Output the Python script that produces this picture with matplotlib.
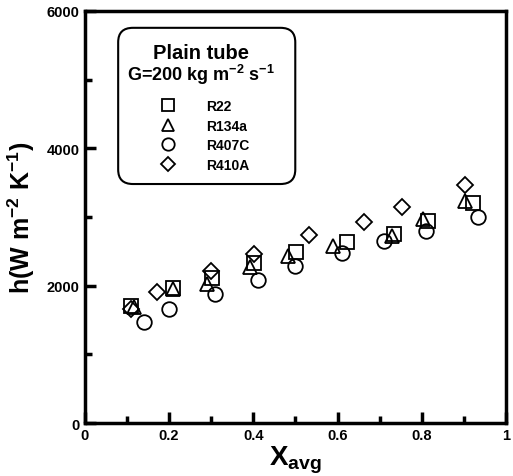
import matplotlib.pyplot as plt
from matplotlib.ticker import MultipleLocator
from matplotlib.patches import FancyBboxPatch

plt.rcParams['font.family'] = ['Liberation Sans', 'DejaVu Sans']
plt.rcParams['font.weight'] = 'bold'
plt.rcParams['mathtext.fontset'] = 'custom'
plt.rcParams['mathtext.rm'] = 'Liberation Sans:bold'
plt.rcParams['mathtext.it'] = 'Liberation Sans:bold'
plt.rcParams['mathtext.bf'] = 'Liberation Sans:bold'

# quality x_avg and heat transfer coefficient
x_r22 = [0.111, 0.210, 0.302, 0.402, 0.502, 0.622, 0.733, 0.815, 0.922]
h_r22 = [1700, 1966, 2107, 2325, 2485, 2640, 2752, 2946, 3199]

x_r134a = [0.118, 0.210, 0.289, 0.392, 0.482, 0.590, 0.729, 0.803, 0.903]
h_r134a = [1685, 1950, 2024, 2267, 2436, 2573, 2727, 2970, 3237]

x_r407c = [0.140, 0.199, 0.310, 0.410, 0.500, 0.611, 0.711, 0.809, 0.932]
h_r407c = [1466, 1660, 1878, 2087, 2290, 2471, 2655, 2800, 2995]

x_r410a = [0.111, 0.171, 0.300, 0.402, 0.532, 0.662, 0.752, 0.901]
h_r410a = [1660, 1912, 2213, 2461, 2737, 2922, 3140, 3465]

fig = plt.figure(figsize=(5.13, 4.77), dpi=100)
ax = fig.add_axes([0.165, 0.111, 0.822, 0.864])

style = dict(linestyle='none', markerfacecolor='none', markeredgecolor='black',
             markeredgewidth=1.3)
ax.plot(x_r22, h_r22, marker='s', markersize=9.5, label='R22', **style)
ax.plot(x_r134a, h_r134a, marker='^', markersize=10, label='R134a', **style)
ax.plot(x_r407c, h_r407c, marker='o', markersize=10.5, label='R407C', **style)
ax.plot(x_r410a, h_r410a, marker='D', markersize=8, label='R410A', **style)

ax.set_xlim(0, 1)
ax.set_ylim(0, 6000)
ax.xaxis.set_major_locator(MultipleLocator(0.2))
ax.xaxis.set_minor_locator(MultipleLocator(0.1))
ax.yaxis.set_major_locator(MultipleLocator(2000))
ax.yaxis.set_minor_locator(MultipleLocator(1000))
ax.xaxis.set_major_formatter(plt.FuncFormatter(lambda v, p: '%g' % v))
ax.tick_params(which='both', direction='in', labelsize=10.5, width=2.5)
ax.tick_params(which='major', length=8)
ax.tick_params(which='minor', length=5)
for s in ax.spines.values():
    s.set_linewidth(2.5)

ax.set_xlabel('X$_{avg}$', fontsize=20, fontweight='bold', labelpad=1)
ax.set_ylabel('h(W m$^{-2}$ K$^{-1}$)', fontsize=18, fontweight='bold', labelpad=7)

# rounded box with the title, then a frameless legend inside it
box = FancyBboxPatch((0.0795, 0.580), 0.42, 0.379, transform=ax.transAxes,
                     boxstyle='round,pad=0,rounding_size=0.035',
                     facecolor='white', edgecolor='black', linewidth=1.5, zorder=3)
ax.add_patch(box)
ax.text(0.275, 0.900, 'Plain tube', transform=ax.transAxes, ha='center',
        va='center', fontsize=14.5, fontweight='bold', zorder=4)
ax.text(0.275, 0.847, 'G=200 kg m$^{-2}$ s$^{-1}$', transform=ax.transAxes,
        ha='center', va='center', fontsize=13, fontweight='bold', zorder=4)

leg = ax.legend(loc='upper left', bbox_to_anchor=(0.174, 0.786), frameon=False,
                fontsize=10, markerscale=0.85, handletextpad=1.98,
                labelspacing=0.4, borderpad=0, handlelength=1.5,
                borderaxespad=0)
leg.set_zorder(5)

fig.savefig('out.png', dpi=100)
